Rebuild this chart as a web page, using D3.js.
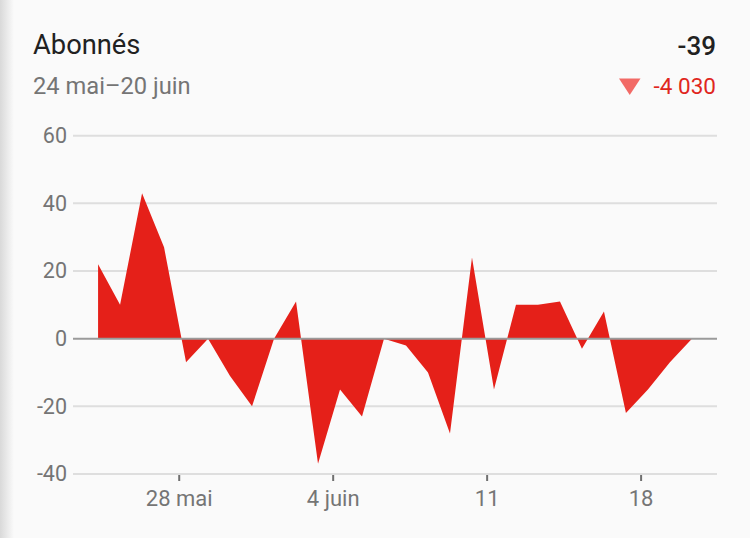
<!DOCTYPE html>
<html>
<head>
<meta charset="utf-8">
<script src="https://cdn.jsdelivr.net/npm/d3@7"></script>
<style>
  html, body { margin: 0; padding: 0; background: #fafafa; }
  svg { display: block; font-family: Roboto, "Noto Sans", sans-serif; }
</style>
</head>
<body>
<svg id="chart" width="750" height="538"></svg>
<script>
// ---- data ----
const startDay = "2018-05-24";
const values = [22, 10, 43, 27, -7, 0, -11, -20, 0, 11, -37, -15, -23, 0,
                -2, -10, -28, 24, -15, 10, 10, 11, -3, 8, -22, -15, -7, 0];
const yTicks = [-40, -20, 0, 20, 40, 60];
const xTickDates = ["2018-05-28", "2018-06-04", "2018-06-11", "2018-06-18"];
const xTickLabels = ["28 mai", "4 juin", "11", "18"];
const title = "Abonnés";
const subtitle = "24 mai–20 juin";
const total = "-39";
const change = "-4 030";

// ---- setup ----
const W = 750, H = 538;
const svg = d3.select("#chart");
const parse = d3.timeParse("%Y-%m-%d");
const day = 864e5;
const t0 = parse(startDay).getTime() + 8 * 3600e3;
const data = values.map((v, i) => ({ date: new Date(t0 + i * day), value: v }));

const pad = 1.14 * day;
const x = d3.scaleTime()
  .domain([new Date(data[0].date.getTime() - pad), new Date(data[data.length - 1].date.getTime() + pad)])
  .range([73, 717]);
const y = d3.scaleLinear().domain([-40, 60]).range([474, 135.7]);

// left edge shadow
const defs = svg.append("defs");
const lg = defs.append("linearGradient").attr("id", "edge").attr("x1", 0).attr("x2", 1);
lg.append("stop").attr("offset", 0).attr("stop-color", "#d9d9d9");
lg.append("stop").attr("offset", 1).attr("stop-color", "#fafafa");
svg.append("rect").attr("width", W).attr("height", H).attr("fill", "#fafafa");
svg.append("rect").attr("width", 14).attr("height", H).attr("fill", "url(#edge)");

// header
svg.append("text").attr("x", 33).attr("y", 54).attr("font-size", 27.3).attr("fill", "#212121").text(title);
svg.append("text").attr("x", 33).attr("y", 94).attr("font-size", 23.7).attr("fill", "#757575").text(subtitle);
svg.append("text").attr("x", 716).attr("y", 55).attr("font-size", 26).attr("font-weight", 500)
  .attr("text-anchor", "end").attr("fill", "#212121").text(total);
svg.append("text").attr("x", 716).attr("y", 94).attr("font-size", 22.5)
  .attr("text-anchor", "end").attr("fill", "#e0261d").text(change);
svg.append("path").attr("d", "M619,78.5 L640.5,78.5 L629.75,95 Z").attr("fill", "#f26a66");

// grid
const grid = svg.append("g");
grid.selectAll("line").data(yTicks.filter(d => d !== 0)).join("line")
  .attr("x1", 73).attr("x2", 717)
  .attr("y1", d => y(d)).attr("y2", d => y(d))
  .attr("stroke", "#dedede").attr("stroke-width", 2);

// y labels
const yAxis = d3.axisLeft(y).tickValues(yTicks).tickSize(0).tickPadding(0)
  .tickFormat(d => String(d));
const gy = svg.append("g").attr("transform", "translate(67,0)").call(yAxis);
gy.select(".domain").remove();
gy.selectAll("text").attr("font-size", 21.5).attr("fill", "#757575").attr("font-family", "Roboto, sans-serif");

// area
const area = d3.area()
  .x(d => x(d.date))
  .y0(y(0))
  .y1(d => y(d.value))
  .curve(d3.curveLinear);
svg.append("path").datum(data).attr("d", area).attr("fill", "#e52019");

// zero line
svg.append("line").attr("x1", 73).attr("x2", 717).attr("y1", y(0)).attr("y2", y(0))
  .attr("stroke", "#9a9a9a").attr("stroke-width", 2);

// x axis
const tickDates = xTickDates.map(parse);
const xAxis = d3.axisBottom(x).tickValues(tickDates).tickSize(6).tickPadding(9)
  .tickFormat((d, i) => xTickLabels[i]);
const gx = svg.append("g").attr("transform", "translate(0,475)").call(xAxis);
gx.select(".domain").remove();
gx.selectAll(".tick line").attr("stroke", "#6f6f6f").attr("stroke-width", 2);
gx.selectAll("text").attr("font-size", 22).attr("fill", "#757575").attr("font-family", "Roboto, sans-serif");
</script>
</body>
</html>
